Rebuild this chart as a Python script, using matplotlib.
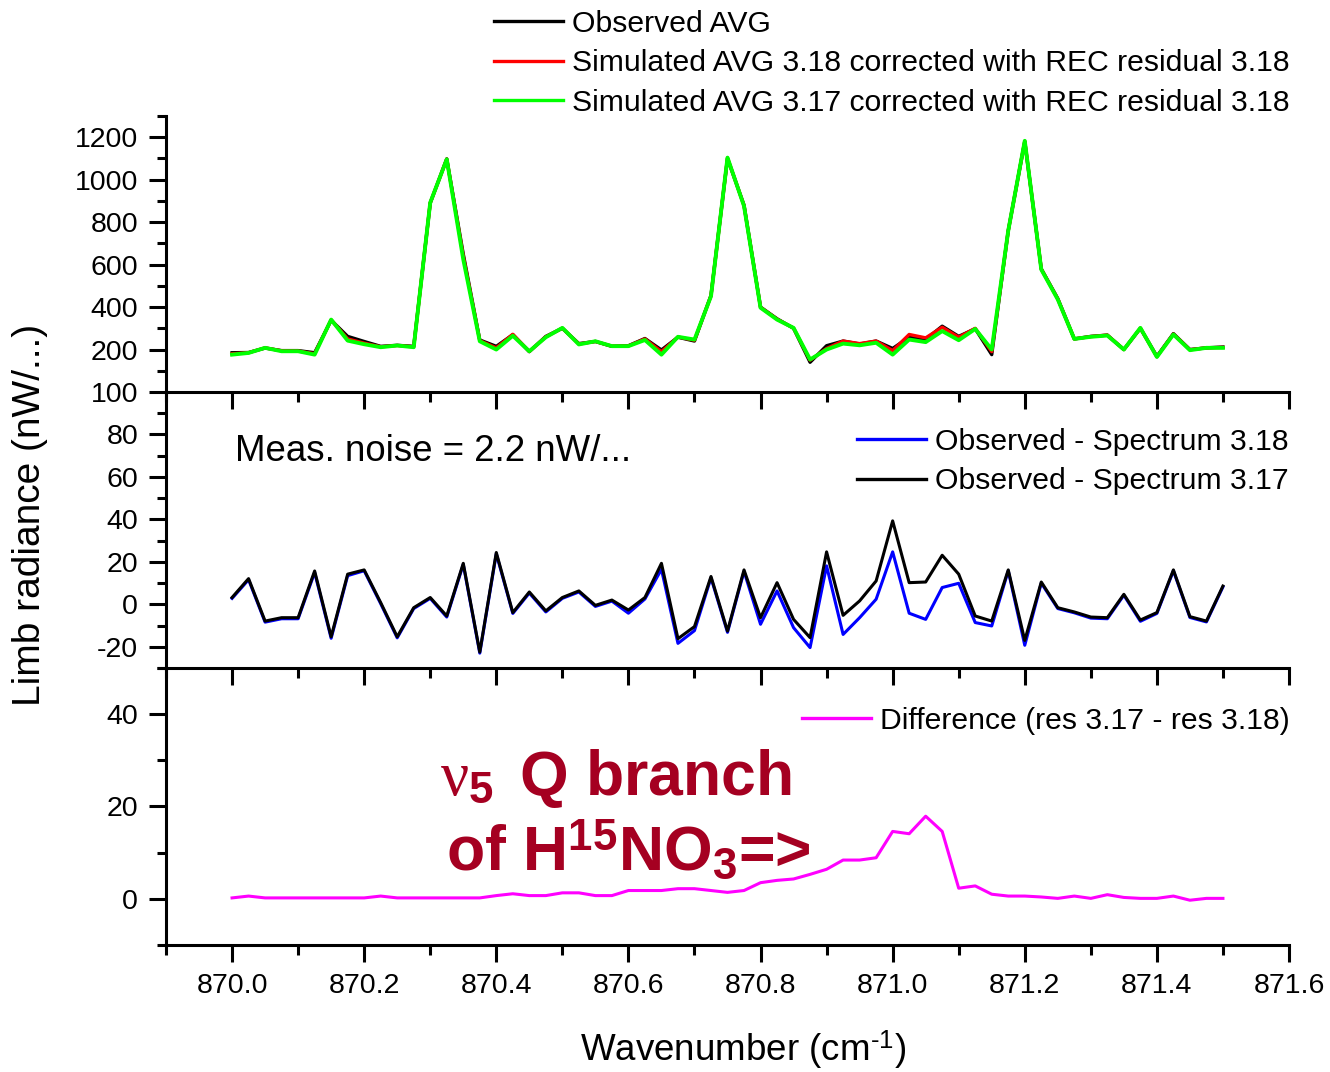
import numpy as np
import matplotlib
matplotlib.use("Agg")
import matplotlib.pyplot as plt
from matplotlib.ticker import MultipleLocator, FixedLocator, FormatStrFormatter

plt.rcParams["font.family"] = ["Liberation Sans", "DejaVu Sans"]
plt.rcParams["axes.unicode_minus"] = False
plt.rcParams["mathtext.fontset"] = "custom"
plt.rcParams["mathtext.rm"] = "Liberation Sans"
plt.rcParams["mathtext.it"] = "Liberation Serif"
plt.rcParams["mathtext.bf"] = "Liberation Sans:bold"

# Spectral grid (cm-1)
wn_start = 870.0
wn_step = 0.025
n_points = 61
wavenumber = wn_start + wn_step * np.arange(n_points)

# Upper panel: limb radiance (nW/...)
observed_avg = [185, 186, 207, 195, 195, 185, 338, 262, 238, 215,
                220, 215, 890, 1098, 650, 245, 215, 270, 190, 262,
                300, 228, 238, 215, 218, 252, 198, 258, 240, 455,
                1100, 880, 400, 345, 300, 140, 218, 240, 226, 240,
                205, 258, 248, 310, 262, 298, 176, 760, 1180, 580,
                440, 250, 262, 268, 200, 300, 168, 275, 200, 208, 212]
sim_318 = [180, 185, 208, 194, 193, 180, 340, 250, 230, 213,
           219, 213, 891, 1097, 640, 242, 208, 272, 191, 260,
           301, 226, 238, 216, 217, 250, 190, 259, 244, 453,
           1102, 878, 399, 343, 301, 150, 205, 240, 228, 240,
           195, 271, 255, 305, 258, 300, 190, 760, 1181, 579,
           438, 250, 261, 268, 200, 301, 166, 273, 199, 208, 210]
sim_317 = [176, 184, 208, 192, 192, 176, 341, 242, 225, 211,
           219, 211, 892, 1096, 625, 239, 200, 265, 192, 258,
           302, 224, 239, 216, 216, 245, 176, 260, 247, 451,
           1104, 876, 397, 341, 302, 153, 200, 228, 220, 232,
           176, 247, 235, 287, 244, 297, 200, 760, 1183, 577,
           436, 250, 260, 266, 200, 302, 165, 271, 197, 208, 208]

# Middle panel: residuals
resid_318 = [2.8, 11.6, -8.4, -6.8, -6.8, 15.0, -16.0, 13.5, 15.8, 0.3,
             -15.8, -2.0, 2.8, -6.0, 18.8, -23.0, 23.8, -4.3, 5.3, -3.6,
             2.8, 5.8, -1.0, 1.5, -4.2, 2.5, 16.5, -18.4, -12.4, 12.5,
             -13.2, 15.5, -9.4, 6.3, -11.0, -20.4, 18.1, -14.2, -6.3, 2.4,
             24.7, -4.2, -7.1, 7.9, 9.9, -8.6, -10.2, 15.8, -19.3, 10.0,
             -2.0, -4.0, -6.5, -6.8, 4.3, -8.0, -4.3, 15.8, -6.2, -8.3, 8.2]
resid_317 = [3.2, 12.1, -7.9, -6.3, -6.3, 15.7, -15.3, 14.2, 16.2, 0.8,
             -15.3, -1.6, 3.2, -5.5, 19.3, -22.5, 24.4, -3.9, 5.8, -3.1,
             3.2, 6.3, -0.5, 2.0, -2.7, 3.2, 19.3, -16.2, -10.5, 13.1,
             -12.6, 16.2, -6.3, 10.2, -7.1, -15.7, 24.7, -5.2, 1.6, 11.0,
             39.3, 10.2, 10.5, 23.1, 14.2, -5.5, -7.9, 16.2, -17.0, 10.5,
             -1.6, -3.6, -6.0, -6.3, 4.7, -7.4, -3.9, 16.2, -5.8, -7.9, 8.6]

# Lower panel: residual difference
difference = [0.2, 0.6, 0.2, 0.2, 0.2, 0.2, 0.2, 0.2, 0.2, 0.6,
              0.2, 0.2, 0.2, 0.2, 0.2, 0.2, 0.7, 1.1, 0.7, 0.7,
              1.3, 1.3, 0.7, 0.7, 1.8, 1.8, 1.8, 2.2, 2.2, 1.8,
              1.4, 1.8, 3.5, 4.0, 4.3, 5.3, 6.4, 8.4, 8.4, 8.9,
              14.6, 14.1, 17.9, 14.6, 2.3, 2.8, 1.0, 0.6, 0.6, 0.4,
              0.1, 0.6, 0.1, 0.9, 0.3, 0.1, 0.1, 0.6, -0.3, 0.1, 0.1]

W, H = 1330, 1072
fig = plt.figure(figsize=(W / 100, H / 100), dpi=100)

left, right = 166 / W, 1289 / W
edges_px = [116, 392, 668, 945]
axes = []
for k in range(3):
    top = 1 - edges_px[k] / H
    bot = 1 - edges_px[k + 1] / H
    ax = fig.add_axes([left, bot, right - left, top - bot])
    axes.append(ax)
ax1, ax2, ax3 = axes

LW_SPINE = 2.2
TICK_FS = 20.5
LEG_FS = 21.7

for ax in axes:
    ax.set_xlim(869.9, 871.6)
    for s in ("top", "right"):
        ax.spines[s].set_visible(False)
    for s in ("left", "bottom"):
        ax.spines[s].set_linewidth(LW_SPINE)
    ax.xaxis.set_major_locator(MultipleLocator(0.2))
    ax.xaxis.set_minor_locator(MultipleLocator(0.1))
    ax.tick_params(which="major", direction="out", length=12, width=LW_SPINE,
                   labelsize=TICK_FS, pad=8)
    ax.tick_params(which="minor", direction="out", length=6.5, width=LW_SPINE)
    ax.tick_params(axis="x", which="major", length=12)
    ax.tick_params(axis="x", which="minor", length=7)
    ax.patch.set_alpha(0)

for ax in (ax1, ax2):
    ax.tick_params(axis="x", labelbottom=False)

ax3.xaxis.set_major_formatter(FormatStrFormatter("%.1f"))

# Upper panel
ax1.plot(wavenumber, observed_avg, color="black", lw=2.4, label="Observed AVG")
ax1.plot(wavenumber, sim_318, color="#ff0000", lw=2.4,
         label="Simulated AVG 3.18 corrected with REC residual 3.18")
ax1.plot(wavenumber, sim_317, color="#00ff00", lw=2.8,
         label="Simulated AVG 3.17 corrected with REC residual 3.18")
ax1.set_ylim(0, 1300)
ax1.yaxis.set_major_locator(FixedLocator([200, 400, 600, 800, 1000, 1200]))
ax1.yaxis.set_minor_locator(FixedLocator([100, 300, 500, 700, 900, 1100, 1300]))

# Middle panel
ax2.plot(wavenumber, resid_318, color="#0000ff", lw=2.2,
         label="Observed - Spectrum 3.18")
ax2.plot(wavenumber, resid_317, color="black", lw=2.2,
         label="Observed - Spectrum 3.17")
ax2.set_ylim(-30, 100)
ax2.yaxis.set_major_locator(MultipleLocator(20))
ax2.yaxis.set_minor_locator(MultipleLocator(10))

# Lower panel
ax3.plot(wavenumber, difference, color="#ff00ff", lw=2.2,
         label="Difference (res 3.17 - res 3.18)")
ax3.set_ylim(-10, 50)
ax3.yaxis.set_major_locator(FixedLocator([0, 20, 40]))
ax3.yaxis.set_minor_locator(FixedLocator([-10, 10, 30, 50]))

leg_kw = dict(frameon=False, fontsize=LEG_FS, borderpad=0, borderaxespad=0,
              handlelength=2.3, handletextpad=0.3, labelspacing=0.38,
              loc="upper right", bbox_transform=fig.transFigure)
l1 = ax1.legend(bbox_to_anchor=(1290 / W, 1 - 10 / H), **leg_kw)
l2 = ax2.legend(bbox_to_anchor=(1289 / W, 1 - 428 / H), **leg_kw)
l3 = ax3.legend(bbox_to_anchor=(1290 / W, 1 - 707 / H), **leg_kw)
for lg in (l1, l2, l3):
    for h in lg.get_lines():
        h.set_linewidth(2.4)

fig.text(235 / W, 1 - 452 / H, "Meas. noise = 2.2 nW/...", fontsize=26.4,
         ha="left", va="center")

red = "#a50021"
fig.text(440 / W, 1 - 795 / H, r"$\nu_{\mathbf{5}}\,$ Q branch", fontsize=45,
         fontweight="bold", color=red, ha="left", va="baseline")
fig.text(446 / W, 1 - 870 / H, r"of H$^{\mathbf{15}}$NO$_{\mathbf{3}}$=>",
         fontsize=45, fontweight="bold", color=red, ha="left", va="baseline")

fig.text(30 / W, 1 - 515 / H, "Limb radiance (nW/...)", fontsize=28,
         rotation=90, ha="center", va="center")
fig.text(743 / W, 1 - 1050 / H, r"Wavenumber (cm$^{\text{-1}}$)", fontsize=26.5,
         ha="center", va="center")

fig.savefig("out.png", dpi=100)
